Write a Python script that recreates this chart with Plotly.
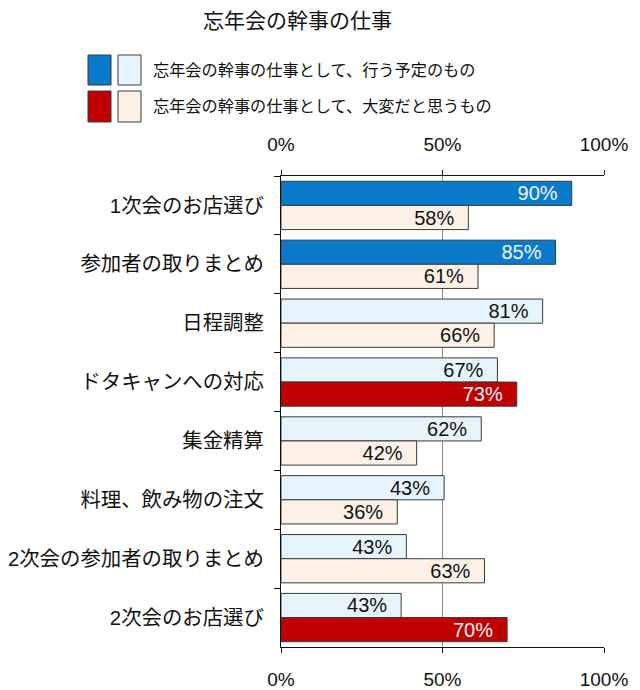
import plotly.graph_objects as go

TITLE = "忘年会の幹事の仕事"
SERIES = ["忘年会の幹事の仕事として、行う予定のもの", "忘年会の幹事の仕事として、大変だと思うもの"]
CATEGORIES = [
    "1次会のお店選び", "参加者の取りまとめ", "日程調整", "ドタキャンへの対応",
    "集金精算", "料理、飲み物の注文", "2次会の参加者の取りまとめ", "2次会のお店選び",
]
# bar lengths as drawn (%), and the labels printed on them
PLAN = [90, 85, 81, 67, 62, 50.5, 38.8, 37.2]
PLAN_LABELS = ["90%", "85%", "81%", "67%", "62%", "43%", "43%", "43%"]
HARD = [58, 61, 66, 73, 42, 36, 63, 70]
HARD_LABELS = ["58%", "61%", "66%", "73%", "42%", "36%", "63%", "70%"]
PLAN_TOP = [True, True, False, False, False, False, False, False]
HARD_TOP = [False, False, False, True, False, False, False, True]
X_TICKS = [0, 50, 100]
X_TICK_TEXT = ["0%", "50%", "100%"]

FONT = "Arial, 'Liberation Sans', 'Noto Sans CJK JP'"
BLUE, BLUE_SOFT = "#0A7BCB", "#E6F5FD"
RED, RED_SOFT = "#C00000", "#FDF1E7"
EDGE = "#3A3A3A"
INK = "#111111"
PAD = "\u00a0\u00a0"

# the page puts the figure 8px in from the corner; plot box in page pixels
OFF = 8
PX0, PX1, PY0, PY1 = 281, 604, 176, 647
W, H = 640 - OFF, 690 - OFF


def px(x):
    return (x - PX0) / (PX1 - PX0)


def py(y):
    return (PY1 - y) / (PY1 - PY0)


def bar(values, labels, top, dark, soft, name):
    return go.Bar(
        x=values, y=CATEGORIES, orientation="h", name=name,
        text=[l + PAD for l in labels], textposition="inside", insidetextanchor="end",
        constraintext="none",
        textfont=dict(size=20, family=FONT, color=["#F2F8FF" if t else INK for t in top]),
        marker=dict(color=[dark if t else soft for t in top], line=dict(color=EDGE, width=1)),
        showlegend=False,
    )


fig = go.Figure()
fig.add_trace(bar(PLAN, PLAN_LABELS, PLAN_TOP, BLUE, BLUE_SOFT, SERIES[0]))
fig.add_trace(bar(HARD, HARD_LABELS, HARD_TOP, RED, RED_SOFT, SERIES[1]))
fig.add_trace(go.Scatter(x=[None], y=[None], xaxis="x2", showlegend=False))

axis_x = dict(range=[0, 100], tickvals=X_TICKS, ticktext=X_TICK_TEXT, fixedrange=True,
              tickfont=dict(size=19, family=FONT, color=INK), zeroline=False,
              showline=True, linecolor=INK, linewidth=1, automargin=False,
              ticks="outside", ticklen=5, tickcolor=INK)

fig.update_layout(
    width=W, height=H,
    margin=dict(l=PX0 - OFF, r=W - (PX1 - OFF), t=PY0 - OFF, b=H - (PY1 - OFF)),
    paper_bgcolor="white", plot_bgcolor="white",
    barmode="group", bargap=0.18, bargroupgap=0,
    font=dict(family=FONT, color=INK),
    title=dict(text=TITLE, x=(297.5 - OFF) / W, xanchor="center",
               y=1 - (21 - OFF) / H, yanchor="middle",
               font=dict(size=21, family=FONT, color=INK)),
    xaxis=dict(**axis_x, side="bottom", showgrid=True, gridcolor="#8A8A8A", gridwidth=1,
               ticklabelstandoff=10),
    xaxis2=dict(**axis_x, side="top", overlaying="x", anchor="y", showgrid=False,
                ticklabelstandoff=11),
    yaxis=dict(autorange="reversed", showline=True, linecolor=INK, linewidth=1,
               ticks="outside", ticklen=6, tickcolor=INK, tickson="boundaries",
               ticklabelstandoff=12, showgrid=False, fixedrange=True, automargin=False,
               tickfont=dict(size=20.4, family=FONT, color=INK)),
)

# legend: two swatches per row, drawn by hand
rows = [(BLUE, BLUE_SOFT, SERIES[0], 55, 85), (RED, RED_SOFT, SERIES[1], 91, 122)]
for dark, soft, label, y0, y1 in rows:
    for x0, color in ((88, dark), (118, soft)):
        fig.add_shape(type="rect", xref="paper", yref="paper",
                      x0=px(x0), x1=px(x0 + 23), y0=py(y1), y1=py(y0),
                      fillcolor=color, line=dict(color=EDGE, width=1))
    fig.add_annotation(xref="paper", yref="paper", x=px(151), y=py((y0 + y1) / 2),
                       text=label, showarrow=False, xanchor="left", yanchor="middle",
                       font=dict(size=16.2, family=FONT, color=INK))

fig.write_html("out.html")
